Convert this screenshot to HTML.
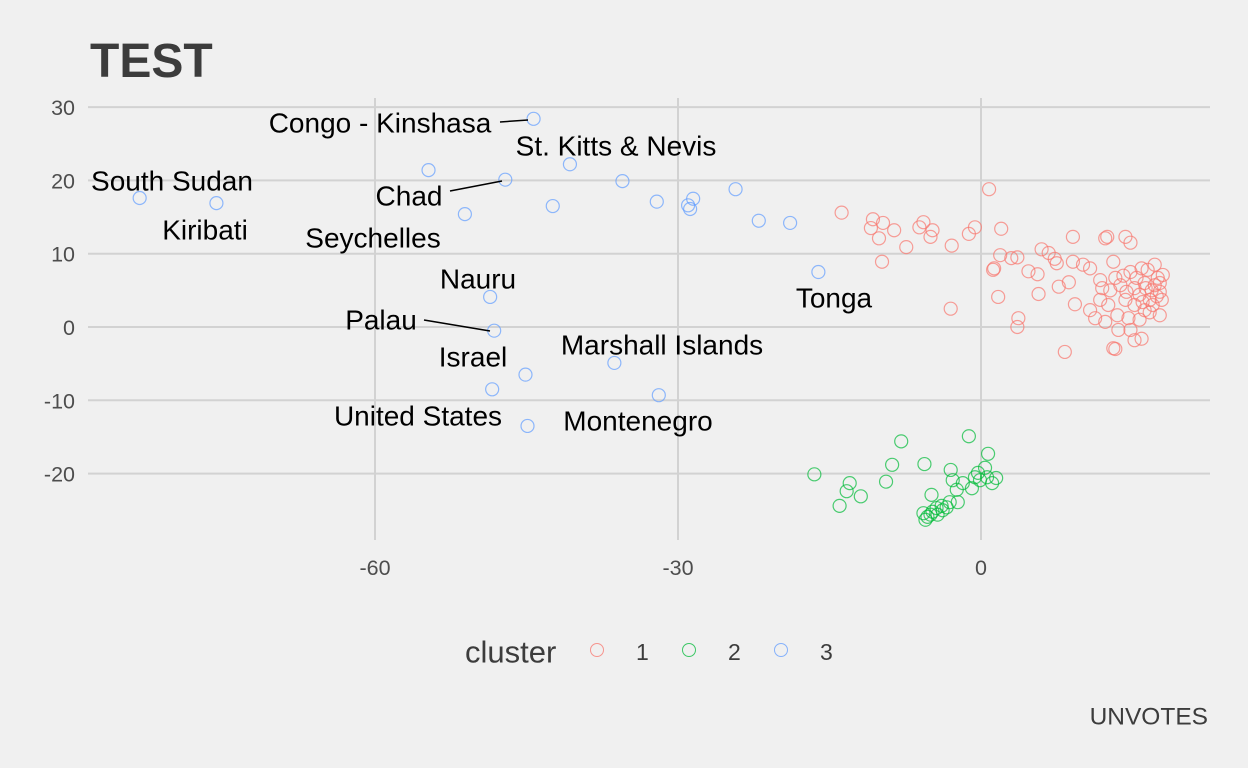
<!DOCTYPE html>
<html><head><meta charset="utf-8"><style>
html,body{margin:0;padding:0;background:#f0f0f0;}
svg{display:block;font-family:"Liberation Sans",Arial,sans-serif;}
</style></head><body>
<svg id="chart" width="1248" height="768" viewBox="0 0 1248 768">
<rect width="1248" height="768" fill="#f0f0f0"/>
<text x="90" y="77" font-size="48" font-weight="bold" fill="#3c3c3c">TEST</text>
<g id="grid"></g>
<g id="ticks"></g>
<g id="pts"></g>
<g id="labels"></g>
<g>
<text x="465" y="652" font-size="31" fill="#3c3c3c" dominant-baseline="central">cluster</text>
<circle cx="597" cy="650" r="6.5" fill="none" stroke="#F8766D" stroke-opacity="0.75"/>
<text x="636" y="652" font-size="23" fill="#3c3c3c" dominant-baseline="central">1</text>
<circle cx="689" cy="650" r="6.5" fill="none" stroke="#00BA38" stroke-opacity="0.75"/>
<text x="728" y="652" font-size="23" fill="#3c3c3c" dominant-baseline="central">2</text>
<circle cx="781" cy="650" r="6.5" fill="none" stroke="#619CFF" stroke-opacity="0.75"/>
<text x="820" y="652" font-size="23" fill="#3c3c3c" dominant-baseline="central">3</text>
</g>
<text x="1208" y="717" font-size="24.5" fill="#3c3c3c" text-anchor="end" dominant-baseline="central">UNVOTES</text>
</svg>
<script>
const xTicks=[-60,-30,0];
const yTicks=[-20,-10,0,10,20,30];
const c1x=[0.8,-13.8,-10.7,-10.9,-9.7,-10.1,-8.6,-7.4,-5.7,-6.1,-4.8,-5.0,-2.9,-1.2,-0.6,2.0,-9.8,-3.0,1.9,1.2,1.3,3.0,3.6,4.7,5.6,6.0,6.7,7.3,7.5,9.1,9.1,1.7,3.7,3.6,5.7,7.7,8.7,9.3,8.3,13.3,12.3,12.5,14.3,14.8,10.1,10.8,11.8,12.8,13.3,13.8,14.3,14.8,15.2,15.7,16.2,16.5,16.7,16.9,17.2,17.5,17.7,17.9,16.2,15.2,14.6,12.3,11.3,13.6,14.8,15.7,15.9,17.2,11.8,10.8,13.1,16.7,16.0,17.4,14.1,12.0,12.6,13.5,14.4,15.4,16.3,17.0,17.7,18.0,17.7,15.2,15.9,13.1];
const c1y=[18.8,15.6,14.7,13.5,14.2,12.1,13.2,10.9,14.3,13.6,13.2,12.3,11.1,12.7,13.6,13.4,8.9,2.5,9.8,7.8,8.0,9.4,9.5,7.6,7.2,10.6,10.1,9.3,8.7,12.3,8.9,4.1,1.2,0.0,4.5,5.5,6.1,3.1,-3.4,-3.0,12.1,12.3,12.3,11.5,8.5,8.0,6.4,5.0,6.7,5.7,3.7,7.5,5.3,4.4,6.0,7.8,3.7,5.0,5.7,6.7,4.8,3.7,2.3,3.0,1.2,0.7,1.2,-0.4,-0.4,1.0,8.0,8.5,3.7,2.3,8.9,2.0,3.4,4.2,7.0,5.3,3.0,1.6,4.8,6.7,5.3,3.0,6.0,7.1,1.6,-1.8,-1.6,-2.9];
const c2x=[-1.2,-7.9,0.7,-8.8,-5.6,-16.5,-3.0,-9.4,-13.0,-13.3,-11.9,-14.0,0.4,0.6,-0.6,1.5,1.1,-2.8,-1.8,-0.9,-2.4,-4.9,-2.3,-3.1,-3.4,-3.9,-4.4,-4.8,-5.0,-5.3,-5.7,-5.5,-4.3,-3.8,-0.1,-0.3];
const c2y=[-14.9,-15.6,-17.3,-18.8,-18.7,-20.1,-19.5,-21.1,-21.3,-22.4,-23.1,-24.4,-19.2,-20.5,-20.5,-20.6,-21.3,-20.9,-21.3,-22.0,-22.2,-22.9,-23.9,-23.9,-24.6,-24.4,-24.7,-25.2,-25.6,-25.9,-25.4,-26.3,-25.6,-25.0,-20.9,-19.9];
const c3x=[-83.3,-75.7,-54.7,-51.1,-47.1,-44.3,-42.4,-40.7,-35.5,-32.1,-29.0,-28.8,-28.5,-24.3,-22.0,-18.9,-16.1,-48.6,-48.2,-36.3,-45.1,-48.4,-31.9,-44.9];
const c3y=[17.6,16.9,21.4,15.4,20.1,28.4,16.5,22.2,19.9,17.1,16.6,16.1,17.5,18.8,14.5,14.2,7.5,4.1,-0.5,-4.9,-6.5,-8.5,-9.3,-13.5];
const NS="http://www.w3.org/2000/svg";
function sx(v){return 981+v*10.1;}
function sy(v){return 327-v*7.33;}
const grid=document.getElementById('grid'),ticks=document.getElementById('ticks'),pts=document.getElementById('pts');
function mk(tag,attrs,parent){const e=document.createElementNS(NS,tag);for(const k in attrs)e.setAttribute(k,attrs[k]);parent.appendChild(e);return e;}
yTicks.forEach(v=>{
  const l=mk('line',{x1:88,x2:1210,y1:sy(v),y2:sy(v),stroke:'#d2d2d2','stroke-width':2},grid);
  
  
  const t=mk('text',{x:75,y:sy(v)+1,'font-size':21.5,fill:'#4d4d4d','text-anchor':'end','dominant-baseline':'central'},ticks);
  t.textContent=v;
  
  
});
xTicks.forEach(v=>{
  const l=mk('line',{x1:sx(v),x2:sx(v),y1:98,y2:540,stroke:'#d2d2d2','stroke-width':2},grid);
  
  
  const t=mk('text',{x:sx(v),y:568,'font-size':21.5,fill:'#4d4d4d','text-anchor':'middle','dominant-baseline':'central'},ticks);
  t.textContent=v;
  
  
});
[[c1x,c1y,'#F8766D'],[c2x,c2y,'#00BA38'],[c3x,c3y,'#619CFF']].forEach((s,i)=>{
  s[0].forEach((x,j)=>{
    const c=mk('circle',{cx:sx(x),cy:sy(s[1][j]),r:6.5,fill:'none',stroke:s[2],'stroke-opacity':0.7,'stroke-width':1.2},pts);
    
    
  });
});
const labTxt=["Congo - Kinshasa","St. Kitts & Nevis","South Sudan","Chad","Kiribati","Seychelles","Nauru","Tonga","Palau","Marshall Islands","Israel","United States","Montenegro"];
const labPos=[[380,122],[616,145],[172,180],[409,195],[205,229],[373,237],[478,278],[834,297],[381,319],[662,344],[473,356],[418,415],[638,420]];
const labs=document.getElementById('labels');
[[500,122,528,120],[450,191,502,181],[424,320,490,331]].forEach(s=>{
  const l=mk('line',{x1:s[0],y1:s[1],x2:s[2],y2:s[3],stroke:'#000','stroke-width':1.5},labs);
  
  
});
labTxt.forEach((t,i)=>{
  const e=mk('text',{x:labPos[i][0],y:labPos[i][1]+1,'font-size':28,fill:'#000','text-anchor':'middle','dominant-baseline':'central'},labs);
  e.textContent=t;
  
  
});
</script>
</body></html>
